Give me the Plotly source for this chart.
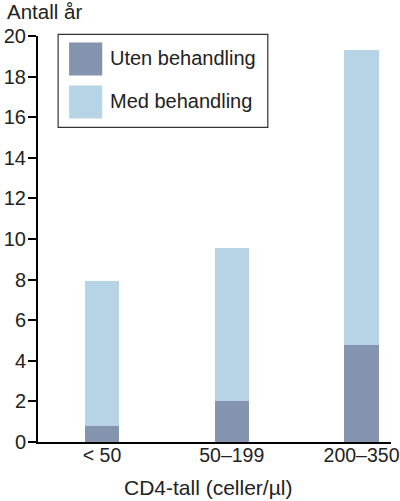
import plotly.graph_objects as go

# CD4-tall kategorier og antall år
categories = ['< 50', '50–199', '200–350']
uten_behandling = [0.8, 2.0, 4.8]
med_behandling_total = [7.95, 9.55, 19.3]
med_behandling = [t - u for t, u in zip(med_behandling_total, uten_behandling)]
y_ticks = [0, 2, 4, 6, 8, 10, 12, 14, 16, 18, 20]

dark = '#8494ae'
light = '#b6d4e6'
font = 'Liberation Sans, Arial, sans-serif'

fig = go.Figure()
fig.add_trace(go.Bar(x=categories, y=uten_behandling, name='Uten behandling',
                     marker=dict(color=dark, line=dict(width=0)), width=0.265))
fig.add_trace(go.Bar(x=categories, y=med_behandling, name='Med behandling',
                     marker=dict(color=light, line=dict(width=0)), width=0.265))

fig.update_layout(
    barmode='stack',
    width=400, height=501,
    margin=dict(l=38, r=9, t=36, b=59),
    plot_bgcolor='white', paper_bgcolor='white',
    showlegend=False,
    font=dict(family=font, size=20, color='#222'),
)

fig.update_xaxes(
    range=[-0.493, 2.227],
    showline=True, linecolor='black', linewidth=2,
    ticks='', tickfont=dict(size=19.5), showgrid=False,
    ticklabelstandoff=-5, automargin=False,
)
fig.update_yaxes(
    range=[0, 20], tickvals=y_ticks,
    showline=True, linecolor='black', linewidth=2,
    ticks='outside', ticklen=8, tickwidth=1.5, tickcolor='black',
    tickfont=dict(size=20), showgrid=False, zeroline=False,
    ticklabelstandoff=-2, automargin=False,
)

# legend drawn by hand (big square swatches)
shapes = [
    dict(type='rect', xref='paper', yref='paper', x0=0.057, x1=0.651, y0=0.775, y1=1.004,
         line=dict(color='#333', width=1.2), fillcolor='white'),
    dict(type='rect', xref='paper', yref='paper', x0=0.088, x1=0.182, y0=0.903, y1=0.984,
         line=dict(width=0), fillcolor=dark),
    dict(type='rect', xref='paper', yref='paper', x0=0.088, x1=0.182, y0=0.797, y1=0.878,
         line=dict(width=0), fillcolor=light),
]
fig.update_layout(shapes=shapes)

fig.add_annotation(text='Uten behandling', xref='paper', yref='paper', x=0.198, y=0.945,
                   xanchor='left', yanchor='middle', showarrow=False, font=dict(size=20))
fig.add_annotation(text='Med behandling', xref='paper', yref='paper', x=0.198, y=0.839,
                   xanchor='left', yanchor='middle', showarrow=False, font=dict(size=20))
fig.add_annotation(text='Antall år', xref='paper', yref='paper', x=-0.094, y=1.06,
                   xanchor='left', yanchor='middle', showarrow=False, font=dict(size=20.5))
fig.add_annotation(text='CD4-tall (celler/µl)', xref='paper', yref='paper', x=0.483, y=-0.111,
                   xanchor='center', yanchor='middle', showarrow=False, font=dict(size=21))

# drop the default 8px page margin so the figure sits at the top-left corner
fig.write_html("out.html", config={'displayModeBar': False},
               post_script="document.body.style.margin='0';")
